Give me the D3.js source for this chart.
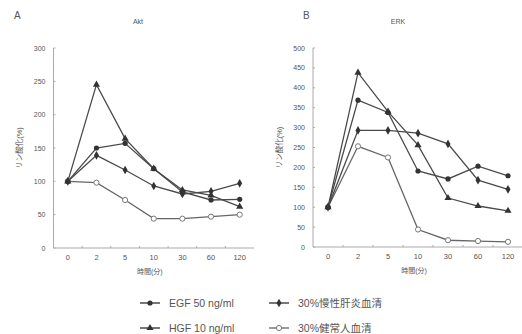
<!DOCTYPE html>
<html>
<head>
<meta charset="utf-8">
<script src="https://cdn.jsdelivr.net/npm/d3@7"></script>
<style>
  body { margin: 0; background: #fff; }
  svg text { font-family: "Liberation Sans", Arial, "Noto Sans CJK JP", sans-serif; fill: #555; }
</style>
</head>
<body>
<svg id="chart" width="522" height="334"></svg>
<script>
// time points (minutes)
const times = ["0", "2", "5", "10", "30", "60", "120"];

// Akt panel
const aktEGF = [100, 150, 157, 119, 84, 72, 73];
const aktHGF = [100, 245, 164, 119, 87, 79, 62];
const aktHepatitis = [100, 139, 117, 93, 81, 85, 97];
const aktHealthy = [100, 98, 72, 44, 44, 47, 50];
const aktTicks = [0, 50, 100, 150, 200, 250, 300];

// ERK panel
const erkEGF = [100, 369, 338, 191, 171, 203, 179];
const erkHGF = [100, 438, 340, 256, 123, 103, 91];
const erkHepatitis = [100, 293, 293, 286, 259, 168, 145];
const erkHealthy = [100, 253, 225, 44, 17, 15, 13];
const erkTicks = [0, 50, 100, 150, 200, 250, 300, 350, 400, 450, 500];

const legendNames = ["EGF 50 ng/ml", "30%慢性肝炎血清", "HGF 10 ng/ml", "30%健常人血清"];

const svg = d3.select("#chart");
const lineColor = "#4a4a4a";
const axisColor = "#aaa";

function drawMarker(g, type, x, y) {
  if (type === "circle") {
    g.append("circle").attr("cx", x).attr("cy", y).attr("r", 2.6).attr("fill", "#333");
  } else if (type === "open") {
    g.append("circle").attr("cx", x).attr("cy", y).attr("r", 2.6)
      .attr("fill", "#fff").attr("stroke", "#777").attr("stroke-width", 1);
  } else {
    const sym = type === "triangle" ? d3.symbolTriangle : d3.symbolDiamond;
    g.append("path").attr("d", d3.symbol().type(sym).size(22)())
      .attr("transform", "translate(" + x + "," + y + ")")
      .attr("fill", "#333");
  }
}

function panel(opts) {
  const x = d3.scaleBand().domain(times).range([opts.x0, opts.x1]);
  const y = d3.scaleLinear().domain([0, opts.max]).range([opts.yBottom, opts.yTop]);
  const g = svg.append("g");

  // y axis
  g.append("line").attr("x1", opts.x0).attr("x2", opts.x0)
    .attr("y1", opts.yBottom).attr("y2", opts.yTop)
    .attr("stroke", axisColor);
  opts.ticks.forEach(t => {
    g.append("line").attr("x1", opts.x0).attr("x2", opts.x0 + 2)
      .attr("y1", y(t)).attr("y2", y(t)).attr("stroke", axisColor);
    g.append("text").attr("x", opts.x0 - 8).attr("y", y(t) + 2.5)
      .attr("text-anchor", "end").attr("font-size", 7).text(t);
  });

  // x axis
  g.append("line").attr("x1", opts.x0).attr("x2", opts.x1)
    .attr("y1", opts.yBottom).attr("y2", opts.yBottom).attr("stroke", axisColor);
  times.forEach((t, i) => {
    if (i > 0) {
      g.append("line").attr("x1", x(t)).attr("x2", x(t))
        .attr("y1", opts.yBottom).attr("y2", opts.yBottom - 2).attr("stroke", axisColor);
    }
    g.append("text").attr("x", x(t) + x.bandwidth() / 2).attr("y", opts.yBottom + 12)
      .attr("text-anchor", "middle").attr("font-size", 7.5).text(t);
  });

  g.append("text").attr("x", (opts.x0 + opts.x1) / 2 - 4).attr("y", opts.yBottom + 26)
    .attr("text-anchor", "middle").attr("font-size", 7).text("時間(分)");
  g.append("text").attr("transform", "translate(" + opts.yLabelX + "," + ((opts.yTop + opts.yBottom) / 2) + ") rotate(-90)")
    .attr("text-anchor", "middle").attr("font-size", 7.5).text("リン酸化(%)");
  g.append("text").attr("x", opts.titleX).attr("y", 24)
    .attr("text-anchor", "middle").attr("font-size", 7).text(opts.title);
  g.append("text").attr("x", opts.letterX).attr("y", 19)
    .attr("font-size", 10).attr("fill", "#444").text(opts.letter);

  const line = d3.line()
    .x((d, i) => x(times[i]) + x.bandwidth() / 2)
    .y(d => y(d));

  opts.series.forEach(s => {
    g.append("path").datum(s.values).attr("d", line)
      .attr("fill", "none").attr("stroke", s.type === "open" ? "#666" : lineColor)
      .attr("stroke-width", 1.3);
  });
  opts.series.forEach(s => {
    s.values.forEach((v, i) => drawMarker(g, s.type, x(times[i]) + x.bandwidth() / 2, y(v)));
  });
}

panel({
  x0: 53.5, x1: 254, yTop: 48, yBottom: 248, max: 300, ticks: aktTicks,
  yLabelX: 22, title: "Akt", titleX: 138, letter: "A", letterX: 14,
  series: [
    { values: aktHealthy, type: "open" },
    { values: aktHepatitis, type: "diamond" },
    { values: aktEGF, type: "circle" },
    { values: aktHGF, type: "triangle" }
  ]
});

panel({
  x0: 313, x1: 523, yTop: 48, yBottom: 247, max: 500, ticks: erkTicks,
  yLabelX: 282, title: "ERK", titleX: 398, letter: "B", letterX: 303,
  series: [
    { values: erkHealthy, type: "open" },
    { values: erkHepatitis, type: "diamond" },
    { values: erkEGF, type: "circle" },
    { values: erkHGF, type: "triangle" }
  ]
});

// legend
const legendItems = [
  { name: legendNames[0], type: "circle", x: 140, y: 303 },
  { name: legendNames[1], type: "diamond", x: 269, y: 303 },
  { name: legendNames[2], type: "triangle", x: 140, y: 328 },
  { name: legendNames[3], type: "open", x: 269, y: 328 }
];
const lg = svg.append("g");
legendItems.forEach(d => {
  lg.append("line").attr("x1", d.x).attr("x2", d.x + 20).attr("y1", d.y).attr("y2", d.y)
    .attr("stroke", d.type === "open" ? "#777" : lineColor).attr("stroke-width", 1.5);
  drawMarker(lg, d.type, d.x + 10, d.y);
  lg.append("text").attr("x", d.x + 29).attr("y", d.y + 4)
    .attr("font-size", 10.5).text(d.name);
});
</script>
</body>
</html>
